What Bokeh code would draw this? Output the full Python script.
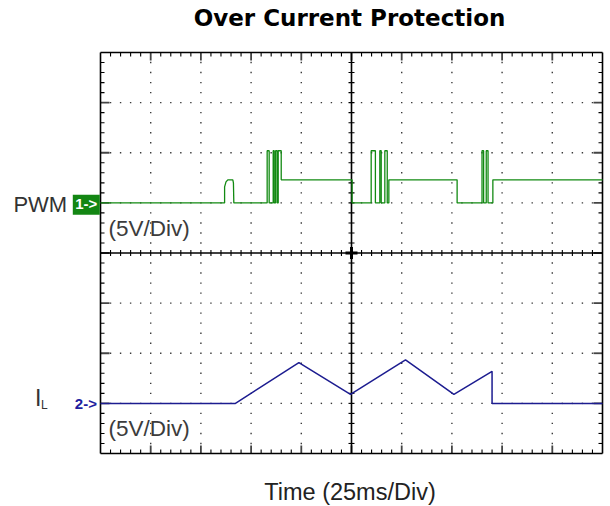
import numpy as np
from bokeh.plotting import figure
from bokeh.models import Label, Range1d, ColumnDataSource
from bokeh.embed import file_html
from bokeh.resources import INLINE

# ---------------- data ----------------
ms_per_div = 25
volts_per_div = 5
pwm_offset_div = 1      # ground marker of channel 1
il_offset_div = -3      # ground marker of channel 2

pwm_t = [0, 61.8, 61.8, 62.5, 63.4, 65.9, 66.2, 66.4,
         83.0, 83.0, 84.0, 84.0, 86.0, 86.0, 86.5, 86.5, 87.2, 87.2, 88.0, 88.0,
         88.5, 88.5, 90.0, 90.0, 125.3, 125.3,
         134.8, 134.8, 136.9, 136.9, 139.1, 139.1, 139.8, 139.8, 141.6, 141.6,
         142.8, 142.8, 143.6, 143.6, 177.6, 177.6,
         190.0, 190.0, 190.8, 190.8, 192.1, 192.1, 193.0, 193.0, 195.4, 195.4, 250]
pwm_v = [0, 0, 1.6, 2.1, 2.3, 2.3, 2.0, 0,
         0, 5.2, 5.2, 0, 0, 5.2, 5.2, 0, 0, 5.2, 5.2, 0,
         0, 5.2, 5.2, 2.3, 2.3, 0,
         0, 5.2, 5.2, 0, 0, 5.2, 5.2, 0, 0, 5.2,
         5.2, 0, 0, 2.3, 2.3, 0,
         0, 5.2, 5.2, 0, 0, 5.2, 5.2, 0, 0, 2.3, 2.3]

il_t = [0, 67.2, 98.8, 124.5, 151.9, 176.0, 195.0, 195.0, 250]
il_v = [0, 0, 4.07, 0.9, 4.35, 0.9, 3.2, 0, 0]

title_text = "Over Current Protection"
x_label = "Time (25ms/Div)"
ch1_name = "PWM"
ch2_name = "I"
ch2_sub = "L"
scale_text = "(5V/Div)"
ch1_marker = "1->"
ch2_marker = "2->"

# ---------------- layout ----------------
W, H = 610, 506
GL, GR, GT, GB = 100, 602, 52, 453     # graticule edges in pixels
NX, NY = 10, 8
XMAX = NX * ms_per_div
sx = (GR - GL) / XMAX                  # px per ms
sy = (GB - GT) / NY                    # px per division


def xd(px):
    return (px - GL) / sx


def yd(py):
    return NY / 2 - (py - GT) / sy


p = figure(width=W, height=H, output_backend="svg", toolbar_location=None,
           x_range=Range1d(xd(0), xd(W)), y_range=Range1d(yd(H), yd(0)),
           x_axis_type=None, y_axis_type=None, title=None,
           min_border=0)
p.outline_line_color = None
p.background_fill_color = "white"
p.border_fill_color = "white"

# ---------------- graticule ----------------
minor_dx = ms_per_div / 5
minor_dy = 1 / 5
xs_minor = np.arange(minor_dx, XMAX - 1e-9, minor_dx)
ys_minor = np.arange(-NY / 2 + minor_dy, NY / 2 - 1e-9, minor_dy)

dx_list, dy_list = [], []
for k in range(1, NY):
    yv = -NY / 2 + k
    if abs(yv) < 1e-9:
        continue
    for xv in xs_minor:
        dx_list.append(xv)
        dy_list.append(yv)
for k in range(1, NX):
    xv = k * ms_per_div
    if k == NX // 2:
        continue
    for yv in ys_minor:
        if abs(round(yv / minor_dy) % 5) == 0:
            continue
        dx_list.append(xv)
        dy_list.append(yv)
p.rect(dx_list, dy_list, width=1.4, height=1.4, width_units="screen",
       height_units="screen", fill_color="#3a3a3a", line_color=None)

mx0, my0, mx1, my1 = [], [], [], []   # minor
Mx0, My0, Mx1, My1 = [], [], [], []   # major
for xv in xs_minor:
    major = round(xv / minor_dx) % 5 == 0
    L = (8 if major else 4) / sy
    tgt = (Mx0, My0, Mx1, My1) if major else (mx0, my0, mx1, my1)
    for a, b in ((NY / 2, NY / 2 - L), (-NY / 2, -NY / 2 + L)):
        tgt[0].append(xv); tgt[1].append(a); tgt[2].append(xv); tgt[3].append(b)
    c = 3 / sy
    mx0.append(xv); my0.append(-c); mx1.append(xv); my1.append(c)
for yv in ys_minor:
    major = round(yv / minor_dy) % 5 == 0
    L = (9 if major else 4) / sx
    tgt = (Mx0, My0, Mx1, My1) if major else (mx0, my0, mx1, my1)
    for a, b in ((0, L), (XMAX, XMAX - L)):
        tgt[0].append(a); tgt[1].append(yv); tgt[2].append(b); tgt[3].append(yv)
    c = 3 / sx
    mx0.append(XMAX / 2 - c); my0.append(yv); mx1.append(XMAX / 2 + c); my1.append(yv)

p.segment(mx0, my0, mx1, my1, line_color="black", line_width=1.1)
p.segment(Mx0, My0, Mx1, My1, line_color="#444444", line_width=1.8)
p.segment([0, 0, 0, XMAX, 0, XMAX / 2],
          [-NY / 2, NY / 2, -NY / 2, -NY / 2, 0, -NY / 2],
          [XMAX, XMAX, 0, XMAX, XMAX, XMAX / 2],
          [-NY / 2, NY / 2, NY / 2, NY / 2, 0, NY / 2],
          line_color="black", line_width=1.6)
p.segment([XMAX / 2 - 6 / sx, XMAX / 2], [0, -6 / sy], [XMAX / 2 + 6 / sx, XMAX / 2], [0, 6 / sy],
          line_color="black", line_width=3)

# ---------------- traces ----------------
src1 = ColumnDataSource(dict(t=pwm_t, y=[pwm_offset_div + v / volts_per_div for v in pwm_v]))
src2 = ColumnDataSource(dict(t=il_t, y=[il_offset_div + v / volts_per_div for v in il_v]))
p.line("t", "y", source=src1, line_color="#128a12", line_width=1.3)
p.line("t", "y", source=src2, line_color="#1c1c90", line_width=1.5)


# ---------------- texts ----------------
def add_text(px, base, text, size, align="left", font="Liberation Sans",
             style="normal", color="#333333"):
    # place the text so that its baseline lands on the pixel row `base`
    p.add_layout(Label(x=xd(px), y=yd(base - 0.37 * size), text=text, text_align=align,
                       text_baseline="alphabetic", text_font=font,
                       text_font_style=style, text_font_size=f"{size}px",
                       text_color=color))


add_text(349, 26.5, title_text, 23, align="center", font="DejaVu Sans",
         style="bold", color="black")
add_text(66.7, 212.3, ch1_name, 22, align="right")
add_text(34.5, 406.3, ch2_name, 23)
add_text(40.5, 408.5, ch2_sub, 12)
for base in (236.3, 436.3):
    add_text(108.0, base, scale_text, 22.5, color="#3c3c3c")
add_text(349.5, 500.5, x_label, 23.5, align="center", color="#222222")

p.quad(left=[xd(72.3)], right=[xd(99.3)], top=[yd(194.3)], bottom=[yd(214.3)],
       fill_color="#138613", line_color=None)
add_text(85.8, 208.5, ch1_marker, 15, align="center", style="bold", color="white")
add_text(74.3, 409.0, ch2_marker, 15, style="bold", color="#1e1ea0")

open("out.html", "w").write(file_html(p, INLINE))
